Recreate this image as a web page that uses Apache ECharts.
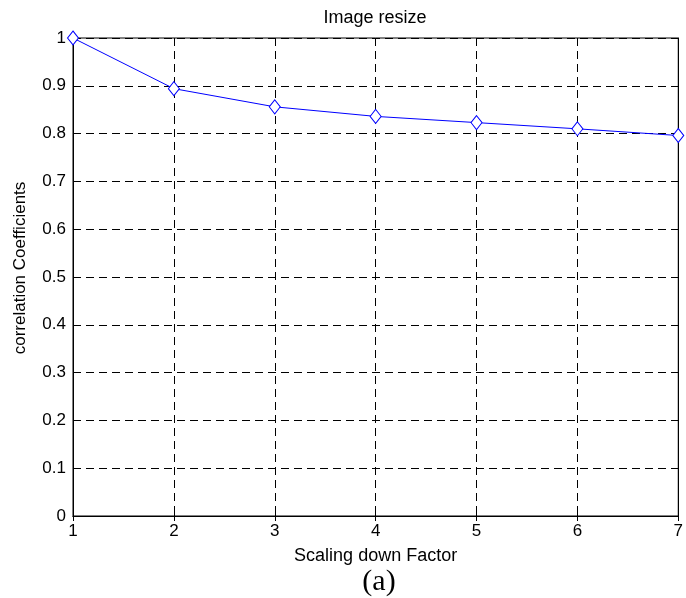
<!DOCTYPE html>
<html>
<head>
<meta charset="utf-8">
<style>
  html, body { margin: 0; padding: 0; background: #fff; }
  #chart { width: 686px; height: 598px; }
</style>
<script src="https://cdn.jsdelivr.net/npm/echarts@6/dist/echarts.min.js"></script>
</head>
<body>
<div id="chart"></div>
<script>
// Scaling-down factor and the resulting correlation coefficient
const factors = [1, 2, 3, 4, 5, 6, 7];
const correlation = [1.0, 0.894, 0.856, 0.836, 0.823, 0.810, 0.796];
const xTicks = [1, 2, 3, 4, 5, 6, 7];
const yTicks = [0, 0.1, 0.2, 0.3, 0.4, 0.5, 0.6, 0.7, 0.8, 0.9, 1];

const font = 'Liberation Sans, Arial, sans-serif';
const dashed = { show: true, lineStyle: { color: '#000', type: [8, 5], width: 1 } };
const tickIn = { show: true, inside: true, length: 5, lineStyle: { color: '#000', width: 1 } };

const chart = echarts.init(document.getElementById('chart'), null, { renderer: 'canvas' });
chart.setOption({
  animation: false,
  backgroundColor: '#fff',
  title: {
    text: 'Image resize',
    left: 370, top: 4, textAlign: 'center',
    textStyle: { fontFamily: font, fontSize: 18, fontWeight: 'normal', color: '#000' }
  },
  grid: { left: 73, right: 6, top: 38, bottom: 82, show: true, borderColor: '#000', borderWidth: 1 },
  xAxis: [{
    type: 'value', min: xTicks[0], max: xTicks[xTicks.length - 1], interval: 1,
    name: 'Scaling down Factor', nameLocation: 'middle', nameGap: 31,
    nameTextStyle: { fontFamily: font, fontSize: 18, color: '#000' },
    axisLine: { show: true, lineStyle: { color: '#000', width: 1 } },
    axisTick: tickIn,
    axisLabel: { fontFamily: font, fontSize: 17, color: '#000', margin: 7 },
    splitLine: dashed
  }, {
    type: 'value', position: 'top', min: 1, max: 7, interval: 1,
    axisLine: { show: true, lineStyle: { color: '#000' } },
    axisTick: tickIn, axisLabel: { show: false }, splitLine: { show: false }
  }],
  yAxis: [{
    type: 'value', min: yTicks[0], max: yTicks[yTicks.length - 1], interval: 0.1,
    axisLine: { show: true, lineStyle: { color: '#000', width: 1 } },
    axisTick: tickIn,
    axisLabel: {
      fontFamily: font, fontSize: 17, color: '#000', margin: 7,
      formatter: v => (Math.round(v * 10) / 10).toString()
    },
    splitLine: dashed
  }, {
    type: 'value', position: 'right', min: 0, max: 1, interval: 0.1,
    axisLine: { show: true, lineStyle: { color: '#000' } },
    axisTick: tickIn, axisLabel: { show: false }, splitLine: { show: false }
  }],
  graphic: [{
    type: 'text', x: 20, y: 268, rotation: Math.PI / 2,
    style: {
      text: 'correlation Coefficients', fontFamily: font, fontSize: 17, fill: '#000',
      align: 'center', verticalAlign: 'middle'
    }
  }, {
    type: 'text', x: 379, y: 582,
    style: {
      text: '(a)', fontFamily: 'Liberation Serif, Times New Roman, serif', fontSize: 30, fill: '#000',
      align: 'center', verticalAlign: 'middle'
    }
  }],
  series: [{
    type: 'line',
    data: factors.map((f, i) => [f, correlation[i]]),
    symbol: 'diamond', symbolSize: [11, 14],
    showAllSymbol: true,
    lineStyle: { color: '#0000ff', width: 1 },
    itemStyle: { color: '#fff', borderColor: '#0000ff', borderWidth: 1 },
    clip: false
  }]
});
</script>
</body>
</html>
